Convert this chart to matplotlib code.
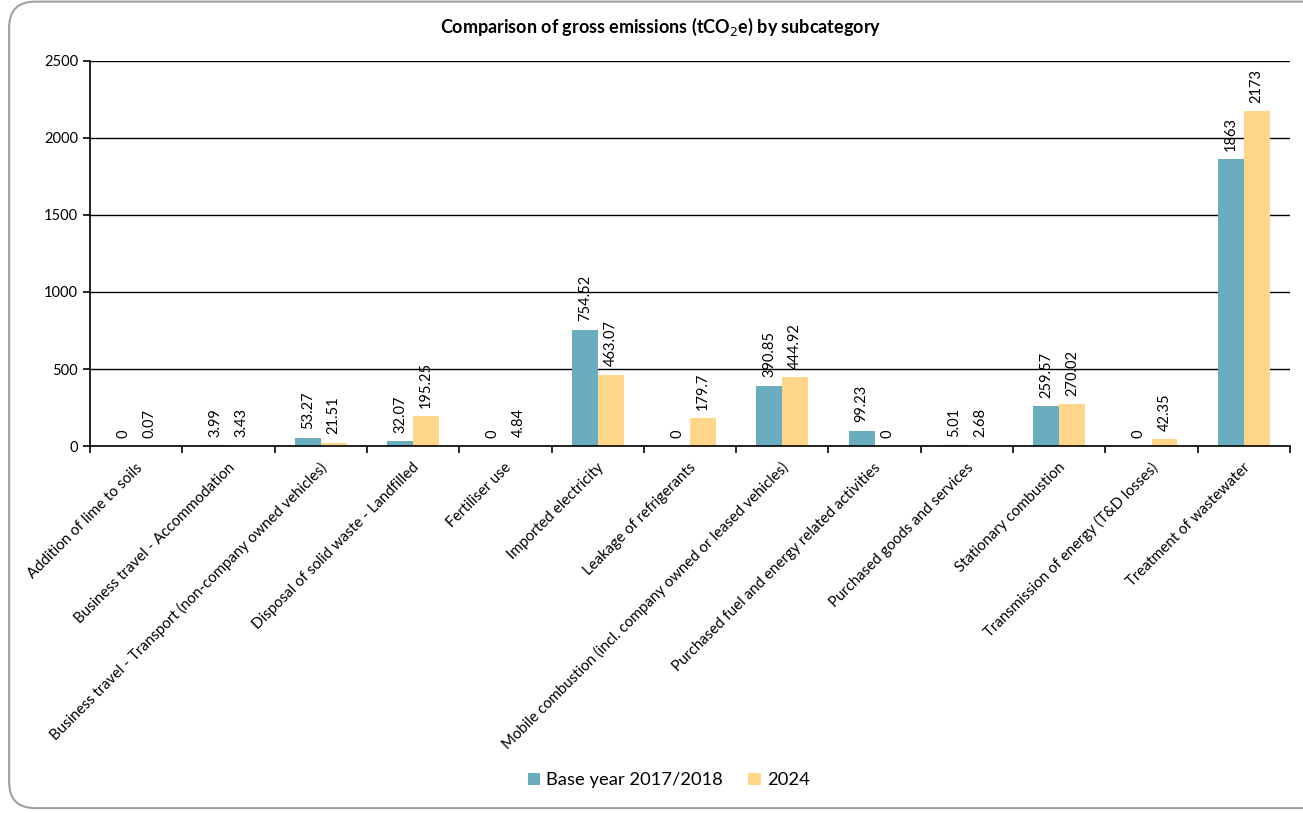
import matplotlib.pyplot as plt
import numpy as np
from matplotlib.patches import FancyBboxPatch

plt.rcParams['font.family'] = ['Lato', 'DejaVu Sans']

categories = [
    "Addition of lime to soils",
    "Business travel - Accommodation",
    "Business travel - Transport (non-company owned vehicles)",
    "Disposal of solid waste - Landfilled",
    "Fertiliser use",
    "Imported electricity",
    "Leakage of refrigerants",
    "Mobile combustion (incl. company owned or leased vehicles)",
    "Purchased fuel and energy related activities",
    "Purchased goods and services",
    "Stationary combustion",
    "Transmission of energy (T&D losses)",
    "Treatment of wastewater",
]
base_year = [0, 3.99, 53.27, 32.07, 0, 754.52, 0, 390.85, 99.23, 5.01, 259.57, 0, 1863]
y2024 = [0.07, 3.43, 21.51, 195.25, 4.84, 463.07, 179.7, 444.92, 0, 2.68, 270.02, 42.35, 2173]
series_names = ["Base year 2017/2018", "2024"]
colors = ["#6AADBE", "#FFD58A"]

fig = plt.figure(figsize=(13.03, 8.13), dpi=100)
# rounded chart border (right edge runs off the image like the original)
border = FancyBboxPatch((0.007, 0.006), 1.08, 0.992, boxstyle="round,pad=0,rounding_size=0.02",
                        transform=fig.transFigure, fill=False, edgecolor="#A0A0A0", linewidth=1.5,
                        mutation_aspect=1303 / 813)
fig.patches.append(border)

ax = fig.add_axes([0.0691, 0.4514, 0.9209, 0.4736])
x = np.arange(len(categories))
w = 0.28
b1 = ax.bar(x - w / 2, base_year, w, color=colors[0], label=series_names[0])
b2 = ax.bar(x + w / 2, y2024, w, color=colors[1], label=series_names[1])

for bars, vals in [(b1, base_year), (b2, y2024)]:
    for r, v in zip(bars, vals):
        ax.annotate(f"{v:g}", (r.get_x() + r.get_width() / 2, v), xytext=(0, 6),
                    textcoords="offset points", rotation=90, ha="center", va="bottom",
                    fontsize=10.5)

ax.set_xlim(-0.5, len(categories) - 0.5)
ax.set_ylim(0, 2500)
ax.set_yticks(np.arange(0, 2501, 500))
ax.yaxis.grid(True, color="black", linewidth=1)
ax.set_axisbelow(True)
for s in ["top", "right"]:
    ax.spines[s].set_visible(False)
ax.spines["left"].set_linewidth(1.2)
ax.spines["bottom"].set_linewidth(1.2)

ax.set_xticks(np.arange(len(categories) + 1) - 0.5)
ax.set_xticklabels([])
ax.tick_params(axis="x", length=5, width=1.2)
ax.tick_params(axis="y", length=5, width=1.2, labelsize=10.5)
for i, c in enumerate(categories):
    ax.annotate(c, (i, 0), xytext=(3, -14), textcoords="offset points", rotation=45,
                rotation_mode="anchor", ha="right", va="center", fontsize=10.8,
                annotation_clip=False)

fig.text(0.507, 0.967, "Comparison of gross emissions (tCO$_2$e) by subcategory", fontsize=13,
         fontweight="bold", ha="center", va="center")

fig.legend(handles=[b1, b2], labels=series_names, loc="center", bbox_to_anchor=(0.513, 0.04),
           ncol=2, frameon=False, fontsize=13.2, handlelength=0.7, handleheight=0.7,
           handletextpad=0.3, columnspacing=1.4)

fig.savefig("out.png", dpi=100)
